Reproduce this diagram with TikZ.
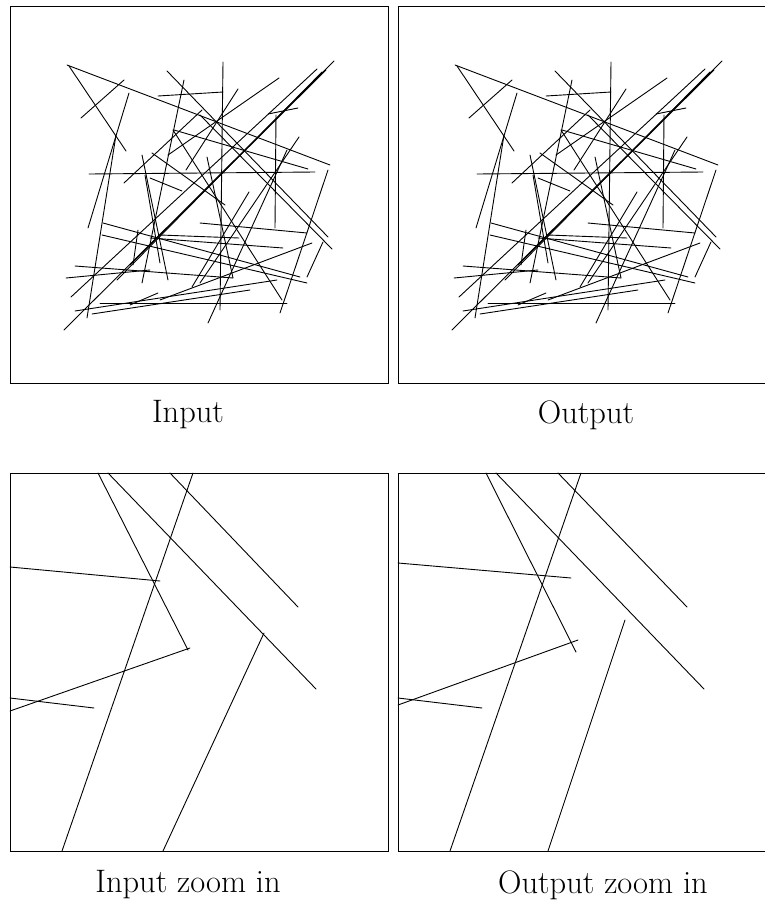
\documentclass[tikz,border=0pt]{standalone}
\begin{document}
\begin{tikzpicture}[x=1pt,y=-1pt]
\tikzset{seg/.style={line width=0.9pt,line cap=round},
  frame/.style={line width=0.8pt},
  lab/.style={font=\fontsize{32.5}{38}\selectfont,inner sep=0pt}}
\useasboundingbox (0,0) rectangle (765,900);
\newcommand\mysegs{67/65/330/165, 69/66/126/151, 81/118/124/80, 129/93/88/228,
 116/135/87/318, 89/174/315/172, 158/96/223/92, 223/62/220/310, 167/71/328/237,
 184/80/142/283, 279/78/168/155, 238/89/186/170, 299/137/200/283, 249/192/192/287,
 334/61/64/330, 317/69/71/297, 322/72/117/280, 326/70/130/265, 268/114/298/108,
 276/115/275/228, 174/130/308/169, 173/130/282/300, 152/153/225/205, 150/178/182/191,
 328/170/280/313, 207/157/233/278, 200/223/307/233, 160/235/239/238, 103/223/300/277,
 102/235/307/283, 150/238/283/248, 312/243/160/300, 130/305/158/293, 323/242/307/277,
 75/266/233/278, 66/278/150/270, 100/303/287/303, 75/311/277/280, 92/314/250/290,
 138/230/133/265, 145/175/160/263, 142/155/168/280, 200/115/332/249, 287/150/208/323,
 124/183/202/110}
% frames
\draw[frame] (10,6) rectangle (388,383);
\draw[frame] (398,6) rectangle (770,383);
\draw[frame] (10,473) rectangle (388,851);
\draw[frame] (398,473) rectangle (770,851);
% input
\foreach \a/\b/\c/\d in \mysegs {\draw[seg] (\a,\b) -- (\c,\d);}
% output
\begin{scope}[xshift=388pt]
\foreach \a/\b/\c/\d in \mysegs {\draw[seg] (\a,\b) -- (\c,\d);}
\end{scope}
% input zoom
\foreach \a/\b/\c/\d in {98/473/188/650, 170/473/298/607, 108/473/316/689,
  193/473/62/851, 10/567/160/581, 10/711/190/648, 10/698/94/708, 264/633/163/851}
  {\draw[seg] (\a,\b) -- (\c,\d);}
% output zoom
\foreach \a/\b/\c/\d in {486/473/576/652, 496/473/704/689, 558/473/687/607,
  581/473/450/851, 398/563/571/578, 398/705/578/640, 398/698/482/708, 625/620/548/851}
  {\draw[seg] (\a,\b) -- (\c,\d);}
\node[lab] (l1) at (188,415) {Input};
\node[lab] (l2) at (586,415) {Output};
\node[lab] (l3) at (188,885) {Input zoom in};
\node[lab] (l4) at (603,885) {Output zoom in};
\end{tikzpicture}
\end{document}
